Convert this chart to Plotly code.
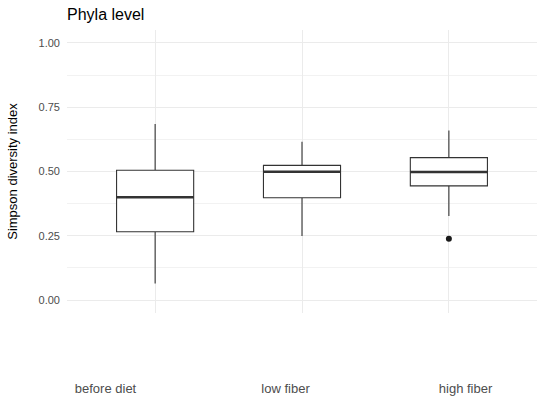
import plotly.graph_objects as go

categories = ["before diet", "low fiber", "high fiber"]
lower_whisker = [0.065, 0.249, 0.327]
q1 = [0.266, 0.398, 0.444]
median = [0.400, 0.499, 0.498]
q3 = [0.505, 0.524, 0.554]
upper_whisker = [0.685, 0.616, 0.659]
outlier_x = ["high fiber"]
outlier_y = [0.239]
y_ticks = [0.0, 0.25, 0.5, 0.75, 1.0]
y_ticktext = ["0.00", "0.25", "0.50", "0.75", "1.00"]
label_positions = [0, 1, 2]

FONT = "Liberation Sans, Arial, sans-serif"
LINE = "#333333"

fig = go.Figure()
fig.add_trace(go.Box(
    x=categories, q1=q1, median=median, q3=q3,
    lowerfence=lower_whisker, upperfence=upper_whisker,
    fillcolor="white", line=dict(color=LINE, width=1.1),
    whiskerwidth=0, boxpoints=False, showlegend=False, hoverinfo="skip",
))
# thicker median line (ggplot fatten)
fig.add_trace(go.Box(
    x=categories, q1=median, median=median, q3=median,
    lowerfence=median, upperfence=median,
    fillcolor="rgba(0,0,0,0)", line=dict(color=LINE, width=2.4),
    whiskerwidth=0, boxpoints=False, showlegend=False, hoverinfo="skip",
))
fig.add_trace(go.Scatter(
    x=outlier_x, y=outlier_y, mode="markers",
    marker=dict(color="#1a1a1a", size=6), showlegend=False, hoverinfo="skip",
))
# invisible carrier trace so the label axis (x2) is drawn
fig.add_trace(go.Scatter(
    x=label_positions, y=median, xaxis="x2", yaxis="y", mode="markers",
    marker=dict(opacity=0), showlegend=False, hoverinfo="skip",
))

fig.update_layout(
    width=550, height=399,
    margin=dict(l=67, r=13, t=30, b=86, autoexpand=False),
    plot_bgcolor="white", paper_bgcolor="white",
    boxmode="overlay", boxgap=0.25,
    font=dict(family=FONT, color="black"),
    title=dict(text="Phyla level", x=67/550, xanchor="left", y=1 - 14/399, yanchor="middle",
               font=dict(size=16, color="black", family=FONT)),
    xaxis=dict(
        type="category", categoryorder="array", categoryarray=categories,
        range=[-0.6, 2.6], showgrid=True, gridcolor="#EBEBEB", gridwidth=1,
        zeroline=False, showline=False, ticks="", automargin=False, showticklabels=False,
    ),
    xaxis2=dict(
        overlaying="x", anchor="y", side="bottom", type="linear",
        range=[-0.214, 2.397], tickvals=label_positions, ticktext=categories,
        showgrid=False, zeroline=False, showline=False, ticks="", automargin=False,
        tickfont=dict(size=13, color="#4D4D4D", family=FONT),
        ticklabelstandoff=66,
    ),
    yaxis=dict(
        range=[-0.05, 1.05], tickvals=y_ticks, ticktext=y_ticktext,
        showgrid=True, gridcolor="#EBEBEB", gridwidth=1,
        minor=dict(tick0=0, dtick=0.125, showgrid=True, gridcolor="#F2F2F2", gridwidth=1),
        zeroline=False, showline=False, ticks="", automargin=False,
        tickfont=dict(size=11, color="#4D4D4D", family=FONT),
        ticklabelstandoff=6,
        title=dict(text="Simpson diversity index", font=dict(size=13, color="black", family=FONT), standoff=18),
    ),
)

fig.write_html("out.html", config={"displayModeBar": False},
               post_script="document.body.style.margin='0';")
